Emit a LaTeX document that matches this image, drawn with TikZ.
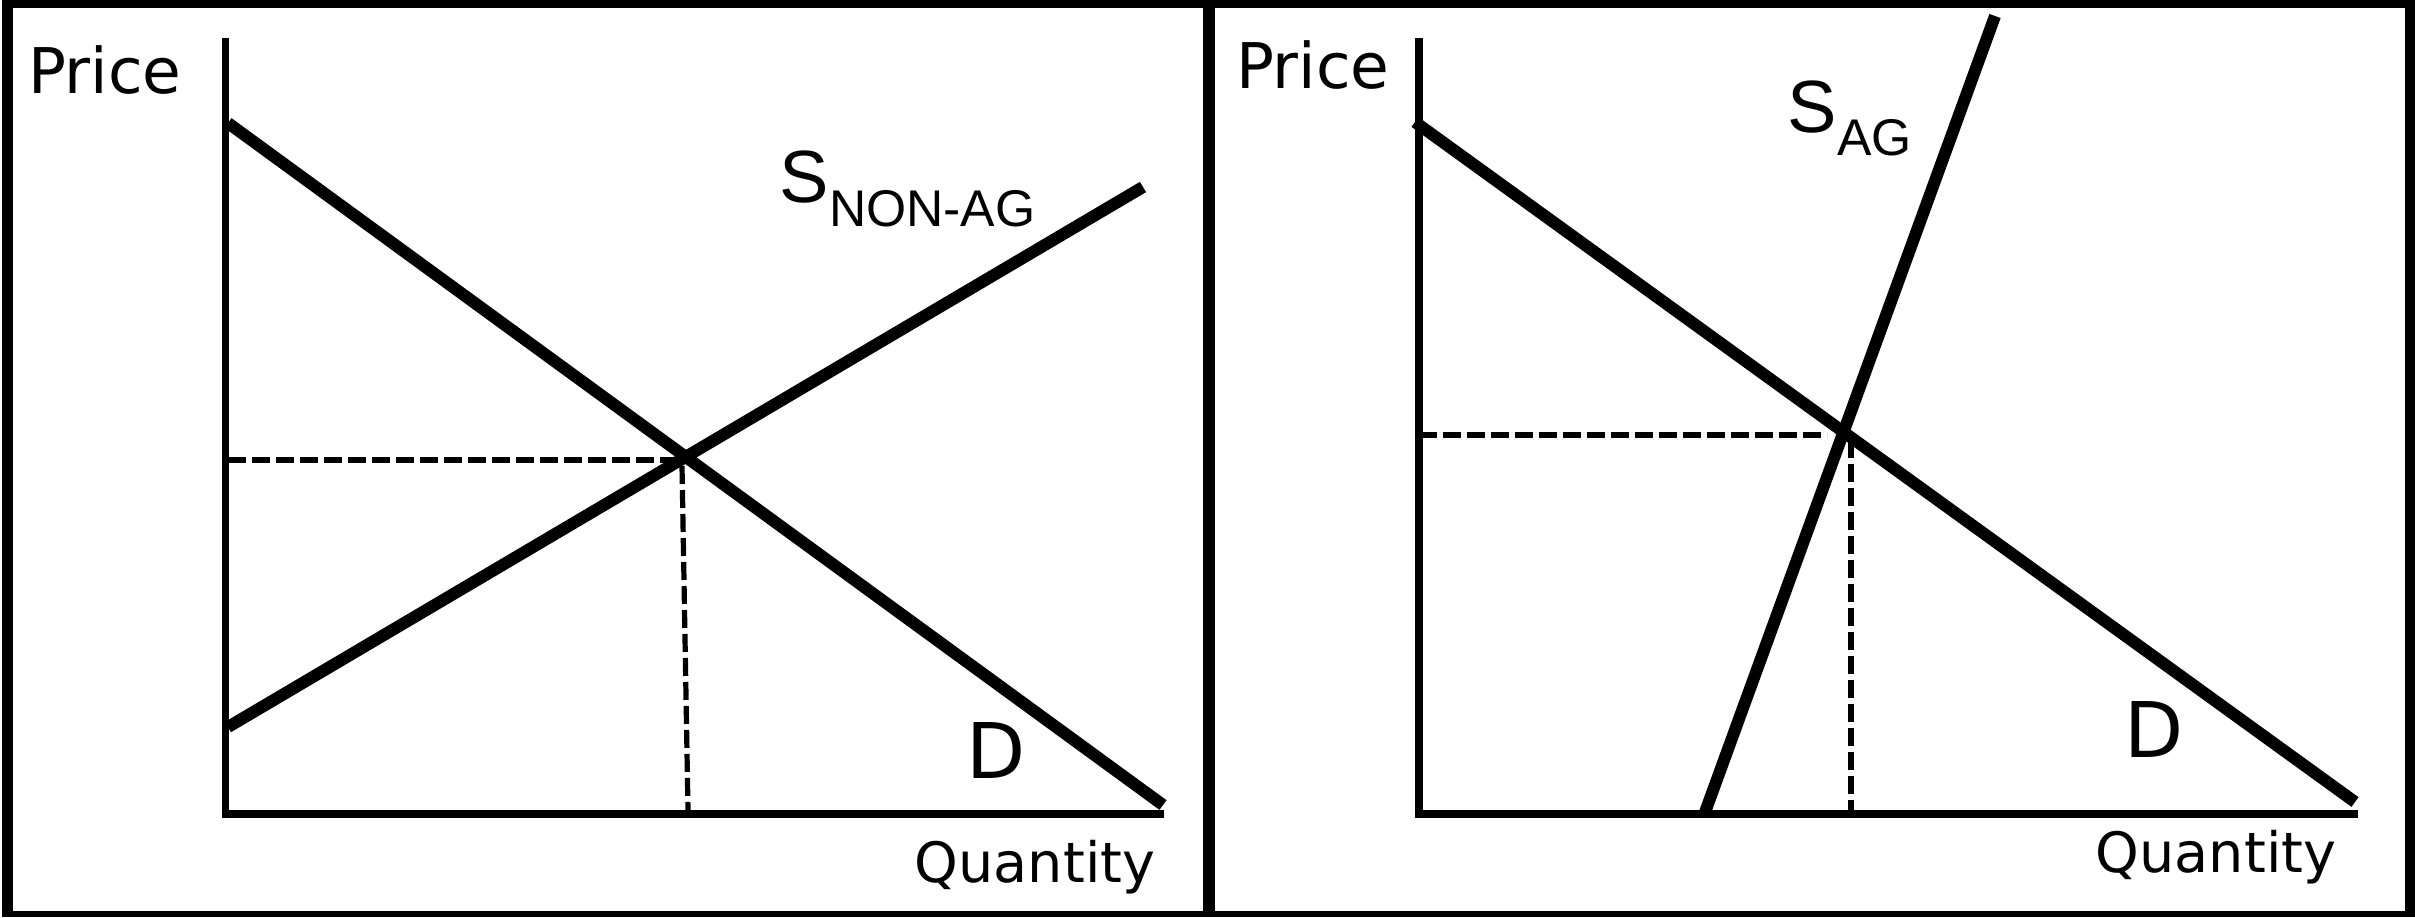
\documentclass[tikz,border=0pt]{standalone}
\usepackage{fontspec}
\setmainfont{DejaVu Sans}
\newfontfamily\arialf{Liberation Sans}
\begin{document}
\begin{tikzpicture}[x=0.5pt,y=-0.5pt,
  axisline/.style={line width=3.75pt},
  curveline/.style={line width=6pt},
  guide/.style={line width=2.6pt,dash pattern=on 9pt off 3pt},
  lbl/.style={inner sep=0pt,outer sep=0pt},
  axlbl/.style={lbl,font=\fontsize{31.5pt}{36pt}\selectfont},
  qlbl/.style={lbl,font=\fontsize{27.8pt}{33pt}\selectfont},
  dlbl/.style={lbl,font=\fontsize{38.4pt}{44pt}\selectfont},
  slbl/.style={lbl,font=\arialf\fontsize{37pt}{42pt}\selectfont},
  sublbl/.style={lbl,font=\arialf\fontsize{25.8pt}{30pt}\selectfont}]
\useasboundingbox (0,0) rectangle (2415,917);
% frame
\fill (2,0) rectangle (2415,8);
\fill (2,911) rectangle (2415,917);
\fill (2,0) rectangle (13,917);
\fill (2405,0) rectangle (2415,917);
\fill (1203,0) rectangle (1215,917);
% ---------- left panel ----------
\coordinate (LyTop) at (225.5,38);
\coordinate (LyBot) at (225.5,817.7);
\coordinate (LxL) at (225.5,814);
\coordinate (LxR) at (1164,814);
\coordinate (LdA) at (228,123);
\coordinate (LdB) at (1163,805);
\coordinate (LsA) at (228,727);
\coordinate (LsB) at (1143,187);
\coordinate (LhA) at (228,460);
\coordinate (LhB) at (683,460);
\coordinate (LvA) at (682,466);
\coordinate (LvB) at (688,810);
\draw[axisline] (LyTop) -- (LyBot);
\draw[axisline] (LxL) -- (LxR);
\draw[guide] (LhA) -- (LhB);
\draw[guide] (LvA) -- (LvB);
\draw[curveline] (LdA) -- (LdB);
\draw[curveline] (LsA) -- (LsB);
\node[axlbl,anchor=base west] (Lprice) at (28,93) {Price};
\node[qlbl,anchor=base] (Lqty) at (1035,882) {Quantity};
\node[dlbl,anchor=base] (LD) at (996,778) {D};
\node[slbl,anchor=base west] (LS) at (779,202) {S};
\node[sublbl,anchor=base west] (LSsub) at (829,226) {NON-AG};
% ---------- right panel ----------
\coordinate (RyTop) at (1419,38);
\coordinate (RyBot) at (1419,817.7);
\coordinate (RxL) at (1419,814);
\coordinate (RxR) at (2358,814);
\coordinate (RdA) at (1415,122);
\coordinate (RdB) at (2355,802);
\coordinate (RsA) at (1704,815);
\coordinate (RsB) at (1995,16);
\coordinate (RhA) at (1419,435);
\coordinate (RhB) at (1827,435);
\coordinate (RvA) at (1851,440);
\coordinate (RvB) at (1851,810);
\draw[axisline] (RyTop) -- (RyBot);
\draw[axisline] (RxL) -- (RxR);
\draw[guide] (RhA) -- (RhB);
\draw[guide] (RvA) -- (RvB);
\draw[curveline] (RdA) -- (RdB);
\draw[curveline] (RsA) -- (RsB);
\node[axlbl,anchor=base west] (Rprice) at (1236,88) {Price};
\node[qlbl,anchor=base] (Rqty) at (2216,872) {Quantity};
\node[dlbl,anchor=base] (RD) at (2154,757) {D};
\node[slbl,anchor=base west] (RS) at (1787,132) {S};
\node[sublbl,anchor=base west] (RSsub) at (1837,155) {AG};
\end{tikzpicture}
\end{document}
